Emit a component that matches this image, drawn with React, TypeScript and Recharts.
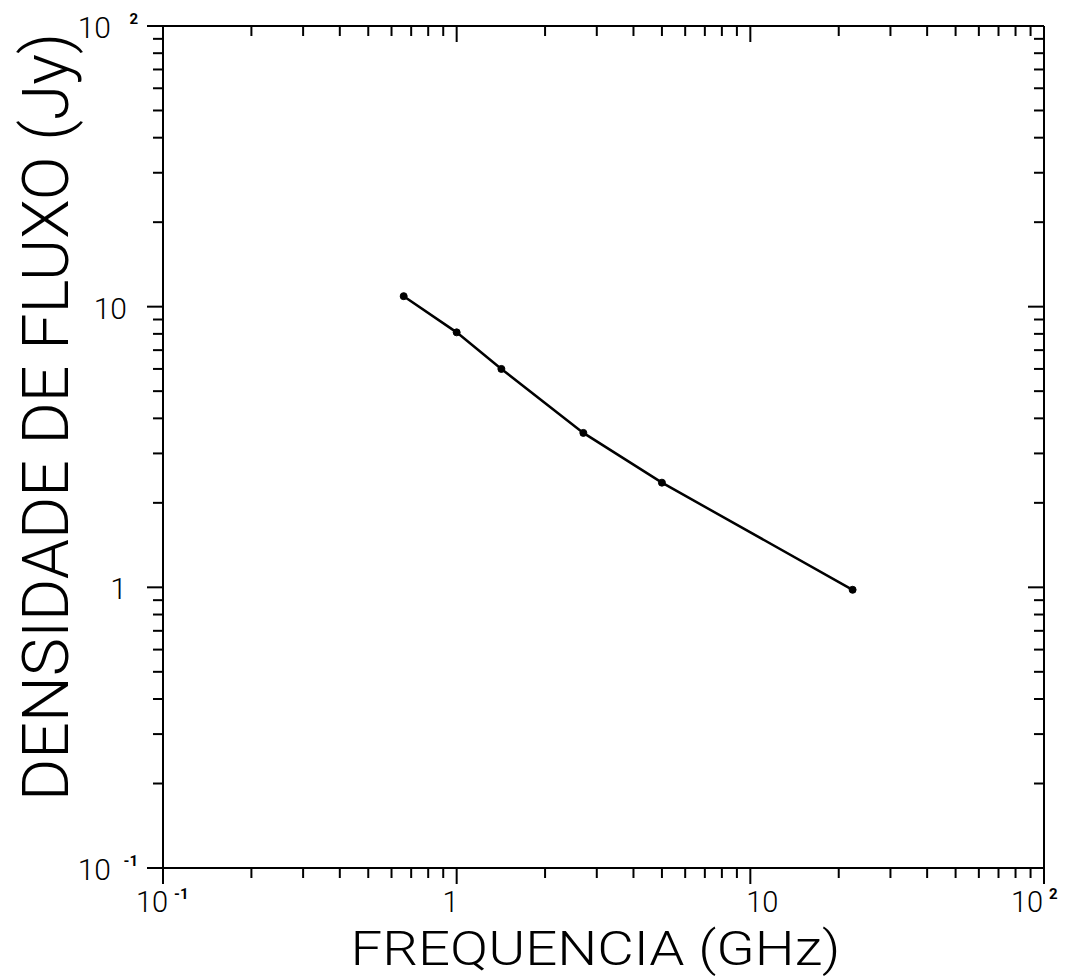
import { LineChart, Line, XAxis, YAxis } from 'recharts';

// flux density spectrum
const freqGHz = [0.66, 1.0, 1.42, 2.7, 5.0, 22.3];
const fluxJy = [10.9, 8.1, 6.0, 3.55, 2.36, 0.98];

const majorTicks = [0.1, 1, 10, 100];
const minorTicks = [
  0.2, 0.3, 0.4, 0.5, 0.6, 0.7, 0.8, 0.9,
  2, 3, 4, 5, 6, 7, 8, 9,
  20, 30, 40, 50, 60, 70, 80, 90,
];
const tickBase = ['10', '1', '10', '10'];
const tickExp = ['-1', '', '', '2'];

const xTitle = 'FREQUENCIA  (GHz)';
const yTitle = 'DENSIDADE  DE  FLUXO  (Jy)';

const data = freqGHz.map((f, i) => ({ freq: f, flux: fluxJy[i] }));
const allTicks = [...majorTicks, ...minorTicks];

const FONT = 'Roboto, "DejaVu Sans", sans-serif';
const MAJ = 16;
const MIN = 10;

const BottomTick = (props: any) => {
  const { x, y, payload } = props;
  const idx = majorTicks.indexOf(payload.value);
  const major = idx >= 0;
  // label offsets follow the hand-placed labels of the original plot
  const shift = [-11, -6, 12, -17][idx] ?? 0;
  return (
    <g>
      <line x1={x} y1={y} x2={x} y2={y + (major ? MAJ : MIN)} stroke="#000" strokeWidth={2} />
      {major && (
        <text x={x + shift} y={y + 44} textAnchor="middle" fontSize={29} fontFamily={FONT} fontWeight={300} fill="#000">
          {tickBase[idx]}
        </text>
      )}
      {major && tickExp[idx] && (
        <text x={x + shift + 22} y={y + 31} textAnchor="start" fontSize={15} fontFamily={FONT} fontWeight={700} fill="#000">
          {tickExp[idx]}
        </text>
      )}
    </g>
  );
};

const TopTick = (props: any) => {
  const { x, y, payload } = props;
  const major = majorTicks.includes(payload.value);
  return <line x1={x} y1={y} x2={x} y2={y + (major ? MAJ : MIN)} stroke="#000" strokeWidth={2} />;
};

const LeftTick = (props: any) => {
  const { x, y, payload } = props;
  const idx = majorTicks.indexOf(payload.value);
  const major = idx >= 0;
  const hasExp = major && tickExp[idx] !== '';
  return (
    <g>
      <line x1={x} y1={y} x2={x - (major ? MAJ : MIN)} y2={y} stroke="#000" strokeWidth={2} />
      {major && (
        <text x={x - (hasExp ? 52 : 36)} y={y + 12} textAnchor="end" fontSize={30} fontFamily={FONT} fontWeight={300} fill="#000">
          {tickBase[idx]}
        </text>
      )}
      {hasExp && (
        <text x={x - 25} y={y - 2} textAnchor="end" fontSize={15} fontFamily={FONT} fontWeight={700} fill="#000">
          {tickExp[idx]}
        </text>
      )}
    </g>
  );
};

const RightTick = (props: any) => {
  const { x, y, payload } = props;
  const major = majorTicks.includes(payload.value);
  return <line x1={x} y1={y} x2={x - (major ? MAJ : MIN)} y2={y} stroke="#000" strokeWidth={2} />;
};

const XTitle = ({ viewBox }: any) => (
  <text
    x={viewBox.x + viewBox.width / 2 - 8}
    y={viewBox.y + 97}
    textAnchor="middle"
    fontSize={48}
    fontFamily={FONT}
    fontWeight={300}
    textLength={490}
    lengthAdjust="spacingAndGlyphs"
    fill="#000"
  >
    {xTitle}
  </text>
);

const YTitle = ({ viewBox }: any) => {
  const cx = viewBox.x - 17;
  const cy = 417;
  return (
    <text
      x={cx}
      y={cy}
      transform={`rotate(-90 ${cx} ${cy})`}
      textAnchor="middle"
      dominantBaseline="central"
      fontSize={64}
      fontFamily={FONT}
      fontWeight={300}
      textLength={768}
      lengthAdjust="spacingAndGlyphs"
      fill="#000"
    >
      {yTitle}
    </text>
  );
};

const App = () => {
  return (
    <div style={{ position: 'absolute', left: 0, top: 0, background: '#fff' }}>
      <LineChart width={1081} height={976} data={data} margin={{ top: 25, right: 36, bottom: 0, left: 63 }}>
        <XAxis
          xAxisId="b"
          dataKey="freq"
          type="number"
          scale="log"
          domain={[0.1, 100]}
          allowDataOverflow
          ticks={allTicks}
          interval={0}
          tickSize={0}
          tickMargin={0}
          tickLine={false}
          tick={<BottomTick />}
          axisLine={{ stroke: '#000', strokeWidth: 2 }}
          height={108}
          label={{ content: <XTitle /> }}
        />
        <XAxis
          xAxisId="t"
          orientation="top"
          dataKey="freq"
          type="number"
          scale="log"
          domain={[0.1, 100]}
          allowDataOverflow
          ticks={allTicks}
          interval={0}
          tickSize={0}
          tickMargin={0}
          tickLine={false}
          tick={<TopTick />}
          axisLine={{ stroke: '#000', strokeWidth: 2 }}
          height={1}
        />
        <YAxis
          yAxisId="l"
          type="number"
          scale="log"
          domain={[0.1, 100]}
          allowDataOverflow
          ticks={allTicks}
          interval={0}
          tickSize={0}
          tickMargin={0}
          tickLine={false}
          tick={<LeftTick />}
          axisLine={{ stroke: '#000', strokeWidth: 2 }}
          width={100}
          label={{ content: <YTitle /> }}
        />
        <YAxis
          yAxisId="r"
          orientation="right"
          type="number"
          scale="log"
          domain={[0.1, 100]}
          allowDataOverflow
          ticks={allTicks}
          interval={0}
          tickSize={0}
          tickMargin={0}
          tickLine={false}
          tick={<RightTick />}
          axisLine={{ stroke: '#000', strokeWidth: 2 }}
          width={1}
        />
        <Line
          xAxisId="b"
          yAxisId="l"
          dataKey="flux"
          type="linear"
          stroke="#000"
          strokeWidth={2.5}
          dot={{ r: 3.5, fill: '#000', stroke: '#000', strokeWidth: 1 }}
          isAnimationActive={false}
        />
      </LineChart>
    </div>
  );
};

export default App;
